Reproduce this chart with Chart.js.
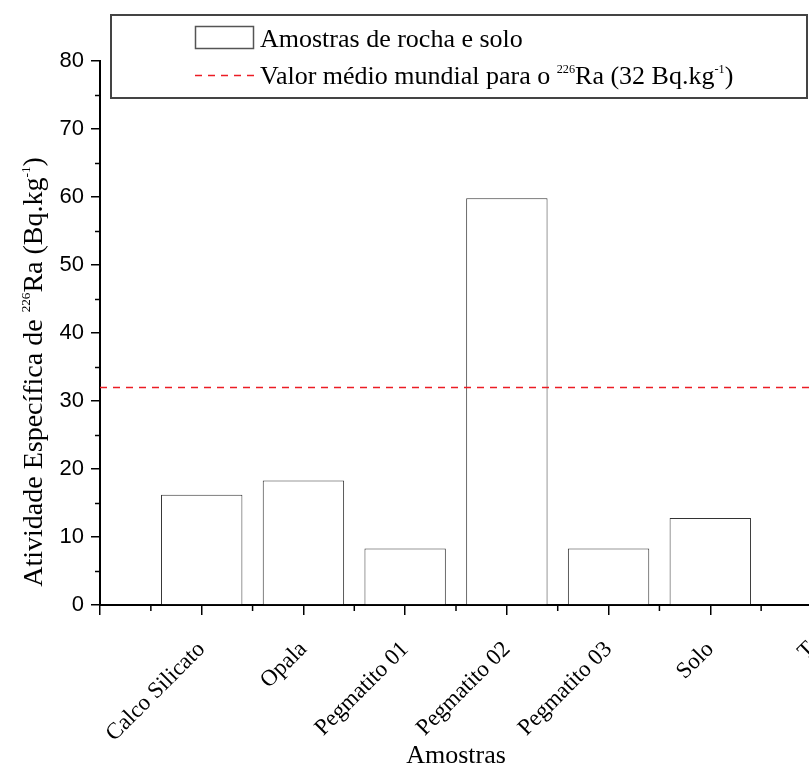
<!DOCTYPE html>
<html lang="pt">
<head>
    <meta charset="UTF-8">
    <title>Atividade específica de 226Ra</title>
    <script src="https://cdn.jsdelivr.net/npm/chart.js"></script>
    <style>
        html, body { margin: 0; padding: 0; background: #fff; overflow: hidden; }
        #wrap { width: 809px; height: 776px; overflow: hidden; }
        canvas { display: block; }
    </style>
</head>
<body>
    <div id="wrap"><canvas id="grafico" width="860" height="776"></canvas></div>

    <script>
        // dados
        const categorias = ['', 'Calco Silicato', 'Opala', 'Pegmatito 01', 'Pegmatito 02', 'Pegmatito 03', 'Solo', 'T'];
        const atividade = [null, 16.2, 18.3, 8.3, 59.8, 8.3, 12.8, null];
        const mediaMundial = [32, 32, 32, 32, 32, 32, 32, 32];
        const yMin = 0, yMax = 80, yPasso = 10;

        const serif = 'Liberation Serif, Times New Roman, serif';
        const sans = 'Liberation Sans, Arial, sans-serif';

        // texto com expoentes (226Ra, kg-1)
        function textoRico(ctx, partes, x, y, size, align) {
            const sup = size * 0.47;
            let total = 0;
            partes.forEach(p => {
                ctx.font = (p.sup ? sup : size) + 'px ' + serif;
                total += ctx.measureText(p.t).width;
            });
            let cx = align === 'center' ? x - total / 2 : x;
            ctx.textAlign = 'left';
            ctx.textBaseline = 'alphabetic';
            partes.forEach(p => {
                ctx.font = (p.sup ? sup : size) + 'px ' + serif;
                ctx.fillText(p.t, cx, p.sup ? y - size * 0.42 : y);
                cx += ctx.measureText(p.t).width;
            });
        }

        const extras = {
            id: 'extras',
            afterDraw(chart) {
                const ctx = chart.ctx;
                const x = chart.scales.x, y = chart.scales.y;
                const area = chart.chartArea;
                ctx.save();
                ctx.strokeStyle = '#000';
                ctx.lineWidth = 1.5;
                // ticks menores
                for (let v = yMin + yPasso / 2; v < yMax; v += yPasso) {
                    const py = Math.round(y.getPixelForValue(v)) + 0.5;
                    ctx.beginPath();
                    ctx.moveTo(area.left - 5, py);
                    ctx.lineTo(area.left, py);
                    ctx.stroke();
                }
                for (let i = 0; i < categorias.length - 1; i++) {
                    const px = (x.getPixelForValue(i) + x.getPixelForValue(i + 1)) / 2;
                    ctx.beginPath();
                    ctx.moveTo(px, area.bottom);
                    ctx.lineTo(px, area.bottom + 6);
                    ctx.stroke();
                }

                // titulo do eixo y
                ctx.fillStyle = '#000';
                ctx.save();
                ctx.translate(42, 372);
                ctx.rotate(-Math.PI / 2);
                textoRico(ctx, [
                    { t: 'Atividade Específica de ' }, { t: '226', sup: true },
                    { t: 'Ra (Bq.kg' }, { t: '-1', sup: true }, { t: ')' }
                ], 0, 0, 28, 'center');
                ctx.restore();

                // legenda
                ctx.fillStyle = '#fff';
                ctx.fillRect(111, 15, 696, 83);
                ctx.strokeStyle = '#444';
                ctx.lineWidth = 2;
                ctx.strokeRect(111, 15, 696, 83);

                ctx.strokeStyle = '#555';
                ctx.lineWidth = 1.5;
                ctx.strokeRect(195.5, 26.5, 58, 22);

                ctx.strokeStyle = '#ec1c24';
                ctx.setLineDash([7, 6]);
                ctx.beginPath();
                ctx.moveTo(195, 75.5);
                ctx.lineTo(256, 75.5);
                ctx.stroke();
                ctx.setLineDash([]);

                ctx.fillStyle = '#000';
                textoRico(ctx, [{ t: 'Amostras de rocha e solo' }], 260, 47, 26, 'left');
                textoRico(ctx, [
                    { t: 'Valor médio mundial para o ' }, { t: '226', sup: true },
                    { t: 'Ra (32 Bq.kg' }, { t: '-1', sup: true }, { t: ')' }
                ], 260, 84, 26, 'left');
                ctx.restore();
            }
        };

        const ctx = document.getElementById('grafico').getContext('2d');
        new Chart(ctx, {
            type: 'bar',
            data: {
                labels: categorias,
                datasets: [{
                    type: 'bar',
                    label: 'Amostras de rocha e solo',
                    data: atividade,
                    backgroundColor: '#fff',
                    borderColor: '#333',
                    borderWidth: 1,
                    categoryPercentage: 0.8,
                    barPercentage: 1,
                    order: 2
                }, {
                    type: 'line',
                    label: 'Valor médio mundial para o 226Ra (32 Bq.kg-1)',
                    data: mediaMundial,
                    borderColor: '#ec1c24',
                    borderWidth: 1.5,
                    borderDash: [7, 6],
                    pointRadius: 0,
                    fill: false,
                    order: 1
                }]
            },
            options: {
                responsive: false,
                animation: false,
                layout: { padding: { top: 61, right: 48, left: 0, bottom: 0 } },
                plugins: {
                    legend: { display: false },
                    tooltip: { enabled: false }
                },
                scales: {
                    x: {
                        offset: false,
                        grid: { offset: false, drawOnChartArea: false, tickLength: 10, color: '#000', lineWidth: 1.5 },
                        border: { color: '#000', width: 2 },
                        ticks: {
                            autoSkip: false, maxRotation: 45, minRotation: 45, padding: 21,
                            color: '#000', font: { family: serif, size: 23 }
                        },
                        title: {
                            display: true, text: 'Amostras', color: '#000',
                            font: { family: serif, size: 26 }, padding: { top: 0, bottom: 4 }
                        },
                        afterFit(s) { s.height = 171; s.paddingLeft = 0; s.paddingRight = 0; }
                    },
                    y: {
                        min: yMin, max: yMax,
                        ticks: { stepSize: yPasso, padding: 7, color: '#000', font: { family: sans, size: 22 } },
                        grid: { drawOnChartArea: false, tickLength: 9, color: '#000', lineWidth: 1.5 },
                        border: { color: '#000', width: 2 },
                        afterFit(s) { s.width = 100; s.paddingTop = 0; s.paddingBottom = 0; }
                    }
                }
            },
            plugins: [extras]
        });
    </script>
</body>
</html>
